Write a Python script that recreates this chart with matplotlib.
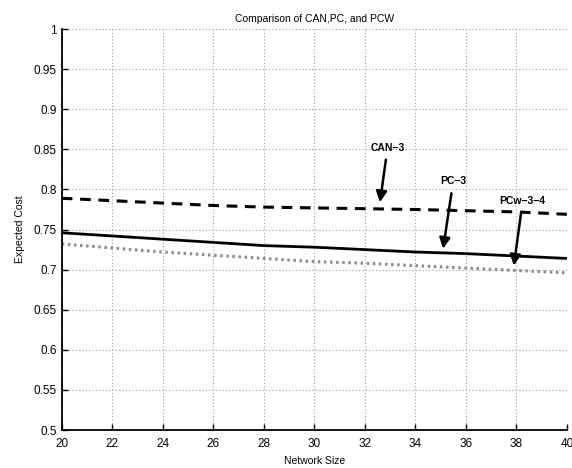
import matplotlib
matplotlib.use("Agg")
import matplotlib.pyplot as plt

plt.rcParams['font.family'] = ['Liberation Sans', 'DejaVu Sans']

# network sizes
network_size = [20, 22, 24, 26, 28, 30, 32, 34, 36, 38, 40]

# expected cost per scheme
can_3 = [0.789, 0.786, 0.783, 0.780, 0.778, 0.777, 0.776, 0.775, 0.7735, 0.772, 0.769]
pc_3 = [0.746, 0.742, 0.738, 0.734, 0.730, 0.728, 0.725, 0.722, 0.720, 0.717, 0.714]
pcw_3_4 = [0.732, 0.727, 0.722, 0.718, 0.714, 0.710, 0.708, 0.705, 0.702, 0.699, 0.696]

yticks = [0.5, 0.55, 0.6, 0.65, 0.7, 0.75, 0.8, 0.85, 0.9, 0.95, 1]
ytick_labels = ["0.5", "0.55", "0.6", "0.65", "0.7", "0.75", "0.8", "0.85", "0.9", "0.95", "1"]

fig = plt.figure(figsize=(5.72, 4.68), dpi=100)
ax = fig.add_axes([0.108, 0.081, 0.883, 0.857])

ax.plot(network_size, can_3, color='black', lw=2.2, linestyle=(0, (3.5, 2.5)))
ax.plot(network_size, pc_3, color='black', lw=2)
ax.plot(network_size, pcw_3_4, color='#8a8a8a', lw=2.2, linestyle=(0, (0.8, 1.2)))

ax.set_xlim(20, 40)
ax.set_ylim(0.5, 1)
ax.set_xticks(network_size)
ax.set_yticks(yticks)
ax.set_yticklabels(ytick_labels)
ax.tick_params(direction='in', labelsize=8.5, length=4, width=1)
ax.tick_params(axis='x', pad=6)

ax.grid(True, color='#9a9a9a', linestyle=(0, (1, 2)), lw=0.8)
ax.spines['top'].set_visible(False)
ax.spines['right'].set_visible(False)
ax.spines['left'].set_linewidth(1.3)
ax.spines['bottom'].set_linewidth(1.3)

ax.set_title("Comparison of CAN,PC, and PCW", fontsize=7.5, pad=5)
ax.set_xlabel("Network Size", fontsize=7.5, labelpad=4)
ax.set_ylabel("Expected Cost", fontsize=7.5, labelpad=6)

arrow = dict(arrowstyle='-|>', color='black', lw=1.8, mutation_scale=16,
             shrinkA=3, shrinkB=0)
ax.annotate("CAN\u22123", xy=(32.6, 0.784), xytext=(32.9, 0.852),
            fontsize=7.5, fontweight='bold', ha='center', va='center',
            arrowprops=arrow)
ax.annotate("PC\u22123", xy=(35.1, 0.726), xytext=(35.5, 0.810),
            fontsize=7.5, fontweight='bold', ha='center', va='center',
            arrowprops=arrow)
ax.annotate("PCw\u22123\u22124", xy=(37.9, 0.705), xytext=(38.25, 0.785),
            fontsize=7.5, fontweight='bold', ha='center', va='center',
            arrowprops=arrow)

fig.savefig("out.png", dpi=100)
